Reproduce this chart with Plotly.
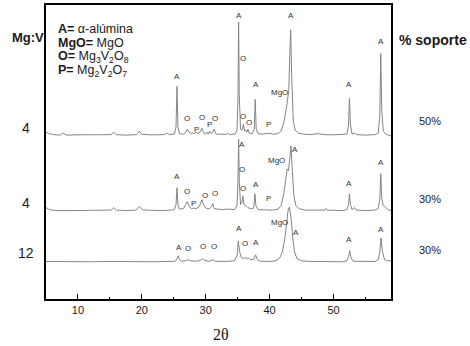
import plotly.graph_objects as go

# ---------------- data (2theta, intensity above baseline, a.u.) ----------------
two_theta_top = [5.0, 5.5, 6.2, 7.2, 7.7, 8.2, 10, 12, 14, 15.2, 15.6, 16.0, 17.5, 19.2, 19.6, 20.0, 21.5,
                 23.5, 23.9, 24.3, 25.1, 25.35, 25.5, 25.65, 25.9, 26.5, 26.9, 27.1, 27.4, 27.8, 28.0, 28.2,
                 28.5, 28.8, 29.1, 29.4, 29.7, 30.0, 30.2, 30.4, 30.6, 30.9, 31.3, 31.6, 32.5, 33.2, 33.4,
                 33.7, 34.6, 34.9, 35.05, 35.15, 35.25, 35.45, 35.7, 35.9, 36.1, 36.3, 36.45, 36.6, 36.8,
                 37.3, 37.6, 37.75, 37.9, 38.2, 39.0, 39.9, 40.5, 41.3, 41.8, 42.2, 42.6, 42.8, 43.0, 43.15,
                 43.3, 43.45, 43.7, 44.0, 44.5, 45.3, 46.5, 47.5, 48.5, 50, 51.5, 52.1, 52.35, 52.5, 52.65,
                 52.9, 53.3, 53.6, 55.0, 56.5, 57.0, 57.25, 57.4, 57.55, 57.8, 58.2, 59.0]
intensity_top = [3, 1.5, 0.5, 0, 2, 0, 0.3, 0, 0.4, 0.5, 3, 0.5, 0, 0.5, 4, 0.8, 0.2,
                 0.5, 2, 0.5, 1, 8, 49, 8, 1.5, 1, 3, 6, 3, 1.5, 2.5, 1,
                 3, 1.5, 3, 7, 2, 1, 3, 1, 4, 1.5, 6, 1, 0.5, 0.8, 2,
                 0.5, 1, 5, 40, 114, 40, 6, 5, 11, 4, 5, 3, 6, 2,
                 1.5, 6, 36, 6, 1.5, 1, 2, 1, 1.5, 4, 12, 26, 34, 45, 80,
                 106, 60, 15, 5, 2, 1, 0.5, 1.5, 0.5, 0.3, 0.3, 1, 10, 37, 10,
                 1, 2, 0.5, 0, 0.5, 2, 20, 82, 25, 4, 1, -1]

two_theta_mid = [5.0, 5.5, 6.5, 8, 10, 12, 14, 15.2, 15.6, 16.0, 17.5, 19.1, 19.6, 20.1, 21.5, 23, 24.5,
                 25.1, 25.35, 25.5, 25.65, 25.9, 26.5, 26.9, 27.1, 27.4, 27.8, 28.1, 28.5, 29.0, 29.4, 29.7,
                 30.1, 30.6, 30.9, 31.1, 31.3, 32.5, 33.5, 34.5, 34.9, 35.05, 35.15, 35.25, 35.45, 35.65,
                 35.8, 36.0, 36.3, 36.6, 37.0, 37.4, 37.55, 37.7, 37.85, 38.2, 39.5, 40.5, 41.3, 41.8, 42.2,
                 42.5, 42.75, 42.95, 43.15, 43.35, 43.55, 43.8, 44.1, 44.6, 45.5, 47, 48.6, 48.8, 49.0, 50,
                 51.5, 52.1, 52.35, 52.5, 52.65, 52.9, 53.3, 53.6, 55, 56.5, 57.0, 57.25, 57.4, 57.55, 57.8,
                 58.1, 58.5, 59.0]
intensity_mid = [3, 1, 0, 0.3, 0, 0.3, 0, 0.5, 3, 0.5, 0, 0.5, 4, 0.8, 0.3, 0, 0.5,
                 1, 6, 23, 6, 1.5, 2, 6, 9, 4, 2, 2.5, 2, 4, 11, 5,
                 2, 2, 4, 7, 2, 1, 1.5, 1, 5, 30, 72, 30, 6, 8,
                 15, 6, 5, 3, 2, 2, 5, 17, 5, 1, 0.5, 0.5, 1.5, 5, 16,
                 30, 42, 40, 55, 65, 40, 15, 5, 2, 0.5, 0.5, 0.5, 2, 0.5, 0.3,
                 0, 1, 6, 17, 6, 1, 3, 0.5, 0, 0.5, 2, 12, 37, 12, 5,
                 4, 1, 0]

two_theta_bot = [5.0, 7, 10, 12, 15, 18, 20, 22, 24, 25.2, 25.5, 25.7, 25.9, 26.3, 26.8, 27.2, 27.6, 28.5,
                 29.2, 29.5, 29.8, 30.5, 31.0, 31.2, 31.5, 33, 34.5, 34.9, 35.1, 35.3, 35.6, 35.9, 36.2,
                 36.5, 36.7, 37.0, 37.5, 37.8, 38.1, 38.6, 40, 41.0, 41.6, 42.0, 42.4, 42.7, 42.9, 43.1,
                 43.35, 43.6, 43.9, 44.3, 45, 46.5, 48, 50, 51.5, 52.1, 52.35, 52.55, 52.75, 53.1, 55,
                 56.5, 57.0, 57.25, 57.45, 57.65, 58.0, 58.5, 59.0]
intensity_bot = [0.3, 0, 0.2, 0, 0.3, 0, 0.2, 0, 0.3, 0.5, 3, 6, 2, 0.5, 1, 2, 1, 0.5,
                 1.5, 3, 1.5, 0.5, 1.5, 2, 0.5, 0.3, 1, 6, 21, 10, 4, 3.5, 4,
                 3, 4, 2, 2.5, 7, 2, 0.5, 0.3, 1, 4, 10, 24, 40, 52, 55,
                 45, 25, 10, 3, 1, 0.3, 0, 0.3, 0, 1, 5, 11, 4, 0.5, 0,
                 0.3, 2, 10, 24, 10, 2, 1, 1]

pattern_offsets = [165, 89, 37.5]          # vertical stacking of the three patterns
mgv_labels = ["4", "4", "12"]
support_labels = ["50%", "30%", "30%"]

# peak identification labels: (text, 2theta, height in a.u.)
peak_labels = [
    ("A", 25.5, 224), ("O", 27.1, 182), ("P", 28.5, 171), ("O", 29.4, 183), ("P", 30.6, 176),
    ("O", 31.4, 182), ("A", 35.15, 285), ("O", 35.9, 242), ("O", 35.9, 184), ("O", 36.75, 178),
    ("A", 37.85, 216), ("P", 39.9, 176), ("MgO", 41.5, 208), ("A", 43.3, 285), ("A", 52.5, 216),
    ("A", 57.4, 259),
    ("A", 25.5, 123), ("O", 27.1, 108), ("P", 28.1, 96), ("O", 29.85, 104), ("O", 31.5, 106),
    ("A", 35.6, 156), ("O", 35.6, 130), ("O", 35.9, 111), ("A", 37.8, 115), ("P", 39.9, 101),
    ("MgO", 41.1, 139), ("A", 44.0, 151), ("A", 52.5, 116), ("A", 57.4, 137),
    ("A", 25.8, 52), ("O", 27.2, 51), ("O", 29.6, 53), ("O", 31.3, 53), ("A", 35.2, 71),
    ("O", 36.2, 56), ("A", 37.8, 57), ("MgO", 41.5, 77), ("A", 44.1, 67), ("A", 52.5, 60),
    ("A", 57.4, 70),
]

legend_lines = [
    "<b>A=</b> \u03b1-al\u00famina",
    "<b>MgO=</b> MgO",
    "<b>O=</b> Mg<sub>3</sub>V<sub>2</sub>O<sub>8</sub>",
    "<b>P=</b> Mg<sub>2</sub>V<sub>2</sub>O<sub>7</sub>",
]

# ---------------- figure ----------------
W, H = 470, 346
L, R, T, B = 46, 79, 3, 47
pw, ph = W - L - R, H - T - B

def px(xp):
    return (xp - L) / pw

def py(yp):
    return (H - B - yp) / ph

fig = go.Figure()
for xs, ys, off in zip([two_theta_top, two_theta_mid, two_theta_bot],
                       [intensity_top, intensity_mid, intensity_bot], pattern_offsets):
    fig.add_trace(go.Scatter(x=xs, y=[v + off for v in ys], mode="lines",
                             line=dict(color="#858585", width=1), hoverinfo="skip",
                             showlegend=False))

ann = []
for txt, xx, yy in peak_labels:
    ann.append(dict(x=xx, y=yy, xref="x", yref="y", text=txt, showarrow=False,
                    font=dict(family="Liberation Sans", size=8, color="#333333"),
                    xanchor="center", yanchor="middle"))

for i, line in enumerate(legend_lines):
    ann.append(dict(x=px(56), y=py(27 + 14.2 * i), xref="paper", yref="paper", text=line,
                    showarrow=False, xanchor="left", yanchor="middle",
                    font=dict(family="Liberation Sans", size=12.5, color="#1a1a1a")))

def outer(text, xp, yp, size, family="Liberation Sans"):
    return dict(x=px(xp), y=py(yp), xref="paper", yref="paper", text=text, showarrow=False,
                xanchor="center", yanchor="middle",
                font=dict(family=family, size=size, color="#1a1a1a"))

ann.append(outer("<b>Mg:V</b>", 28, 36, 13))
ann.append(outer("<b>% soporte</b>", 433, 38, 14))
for lab, yp in zip(mgv_labels, [127, 202, 253]):
    ann.append(outer(lab, 26, yp, 14))
for lab, yp in zip(support_labels, [120, 198, 250]):
    ann.append(outer(lab, 430, yp, 11))
ann.append(outer("2\u03b8", 221, 335, 16, "Liberation Serif"))

fig.update_layout(
    width=W, height=H, margin=dict(l=L, r=R, t=T, b=B, pad=0),
    paper_bgcolor="white", plot_bgcolor="white", annotations=ann,
    xaxis=dict(range=[5, 59], tickmode="linear", tick0=0, dtick=10, ticks="inside", ticklen=5,
               tickwidth=1.3, tickcolor="black", showline=True, linecolor="black", linewidth=1.5,
               mirror=True, showgrid=False, zeroline=False,
               minor=dict(dtick=5, tick0=0, ticks="inside", ticklen=2, tickwidth=1.3,
                          tickcolor="black", showgrid=False),
               tickfont=dict(family="Liberation Sans", size=11, color="#1a1a1a")),
    yaxis=dict(range=[0, 296], showticklabels=False, ticks="", showline=True, linecolor="black",
               linewidth=1.5, mirror=True, showgrid=False, zeroline=False),
)

fig.write_html("out.html", config={"displayModeBar": False},
               post_script="document.body.style.margin='0';")
